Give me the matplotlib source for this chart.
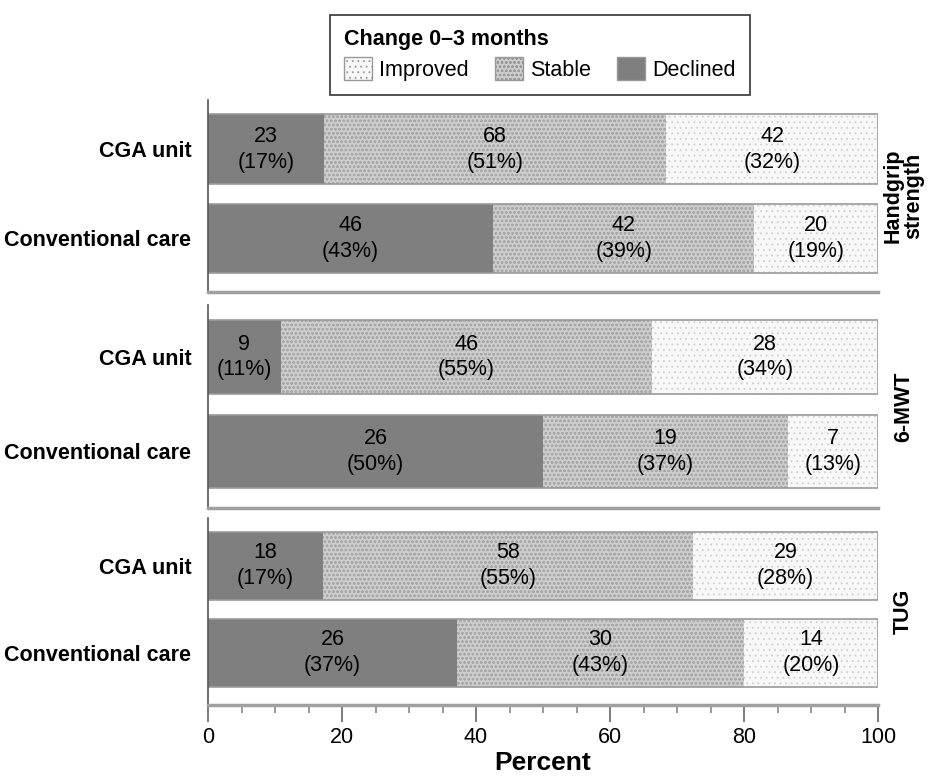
import matplotlib
matplotlib.use('Agg')
import matplotlib.pyplot as plt
from matplotlib.patches import Patch

plt.rcParams['font.family'] = ['Liberation Sans', 'DejaVu Sans']
plt.rcParams['hatch.linewidth'] = 0.6

# Data: counts per group, order Declined, Stable, Improved
measures = ['Handgrip\nstrength', '6-MWT', 'TUG']
groups = ['Conventional care', 'CGA unit']
declined = [[46, 23], [26, 9], [26, 18]]
stable = [[42, 68], [19, 46], [30, 58]]
improved = [[20, 42], [7, 28], [14, 29]]
declined_pct = [[43, 17], [50, 11], [37, 17]]
stable_pct = [[39, 51], [37, 55], [43, 55]]
improved_pct = [[19, 32], [13, 34], [20, 28]]
xticks = [0, 20, 40, 60, 80, 100]

# Styles
cat_styles = {
    'Declined': dict(color='#7f7f7f', hatch=None, hcol='#7f7f7f'),
    'Stable': dict(color='#cdcdcd', hatch='oooo', hcol='#a8a8a8'),
    'Improved': dict(color='#f8f8f8', hatch='...', hcol='#cfcfcf'),
}

FS = 15.5
W, H = 940, 781
fig = plt.figure(figsize=(W / 100, H / 100), dpi=100)

# panel (top px, bottom px)
panels = [(100, 292), (305, 508), (518, 705)]
x0, x1 = 208, 878

for i, (top, bot) in enumerate(panels):
    ax = fig.add_axes([x0 / W, 1 - bot / H, (x1 - x0) / W, (bot - top) / H])
    left = [0, 0]
    for name, vals, pcts in [('Declined', declined[i], declined_pct[i]),
                             ('Stable', stable[i], stable_pct[i]),
                             ('Improved', improved[i], improved_pct[i])]:
        st = cat_styles[name]
        totals = [declined[i][k] + stable[i][k] + improved[i][k] for k in range(2)]
        widths = [vals[k] / totals[k] * 100 for k in range(2)]
        ax.barh([0, 1], widths, left=left, height=0.78, color=st['color'],
                hatch=st['hatch'], edgecolor=st['hcol'], linewidth=0)
        for k in range(2):
            ax.text(left[k] + widths[k] / 2, k, f"{vals[k]}\n({pcts[k]}%)",
                    ha='center', va='center', fontsize=FS, linespacing=1.3)
        left = [left[k] + widths[k] for k in range(2)]
    # outline of full bars
    ax.barh([0, 1], [100, 100], height=0.78, facecolor='none',
            edgecolor='#9a9a9a', linewidth=1.2)
    ax.set_xlim(0, 100)
    ax.set_ylim(-0.6, 1.55)
    ax.set_yticks([0, 1])
    ax.set_yticklabels(groups, fontsize=FS, fontweight='bold')
    ax.tick_params(axis='y', length=0, pad=12)
    for s in ['top', 'right']:
        ax.spines[s].set_visible(False)
    ax.spines['left'].set_color('#555555')
    ax.spines['left'].set_linewidth(1.2)
    ax.spines['bottom'].set_color('#a0a0a0')
    ax.spines['bottom'].set_linewidth(2.5)
    ax.text(1.038, 0.5, measures[i], transform=ax.transAxes, rotation=90,
            ha='center', va='center', fontsize=FS, fontweight='bold',
            linespacing=0.95)
    if i < 2:
        ax.set_xticks([])
    else:
        ax.set_xticks(xticks)
        ax.set_xticks(range(0, 101, 5), minor=True)
        ax.tick_params(axis='x', which='major', length=12, width=1.2,
                       color='#666666', labelsize=FS, pad=4)
        ax.tick_params(axis='x', which='minor', length=6, width=1.2,
                       color='#888888')
        ax.set_xlabel('Percent', fontsize=19, fontweight='bold', labelpad=2)

handles = [Patch(facecolor=cat_styles[n]['color'], hatch=cat_styles[n]['hatch'],
                 edgecolor='#999999', label=n) for n in ['Improved', 'Stable', 'Declined']]
leg = fig.legend(handles=handles, ncol=3, loc='center',
                 bbox_to_anchor=(540 / W, 1 - 55 / H), title='Change 0–3 months',
                 title_fontproperties={'weight': 'bold', 'size': FS},
                 fontsize=FS, frameon=True, fancybox=False, edgecolor='black',
                 handlelength=1.3, handleheight=1.3, columnspacing=1.2,
                 handletextpad=0.35, borderpad=0.65, labelspacing=0.3,
                 alignment='left')
leg.get_frame().set_linewidth(1.2)

fig.savefig('out.png', dpi=100)
